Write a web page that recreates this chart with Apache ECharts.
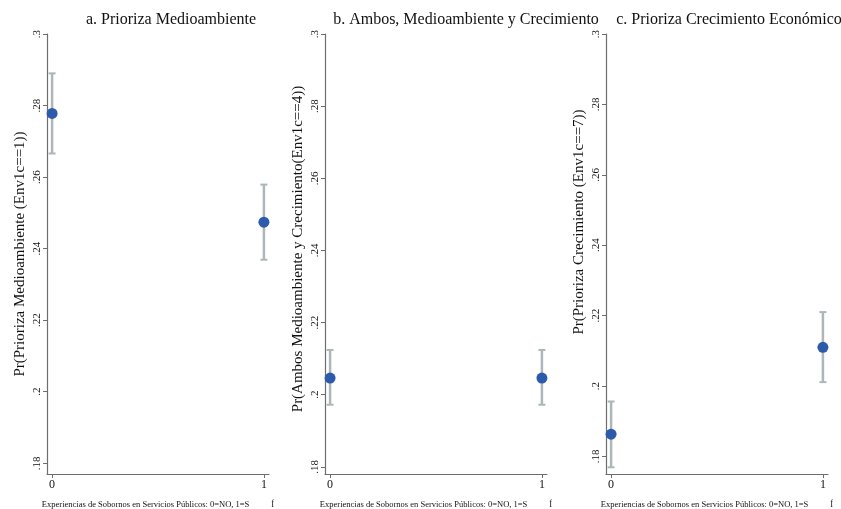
<!DOCTYPE html>
<html>
<head>
<meta charset="utf-8">
<script src="https://cdn.jsdelivr.net/npm/echarts@6/dist/echarts.min.js"></script>
<style>html,body{margin:0;padding:0;background:#fff;}#c{width:841px;height:509px;}</style>
</head>
<body>
<div id="c"></div>
<script>
const categories = [0, 1];
const xTickLabels = ['0', '1'];
const yTicks = ['.18', '.2', '.22', '.24', '.26', '.28', '.3'];

const titles = ['a. Prioriza Medioambiente', 'b. Ambos, Medioambiente y Crecimiento', 'c. Prioriza Crecimiento Económico'];
const yNames = ['Pr(Prioriza Medioambiente (Env1c==1))', 'Pr(Ambos Medioambiente y Crecimiento(Env1c==4))', 'Pr(Prioriza Crecimiento (Env1c==7))'];
const xName = 'Experiencias de Sobornos en Servicios Públicos: 0=NO, 1=S';
const xNameTail = 'Í';

const estA = [0.2778, 0.2474];
const loA = [0.2666, 0.2369];
const hiA = [0.2890, 0.2579];

const estB = [0.2046, 0.2046];
const loB = [0.1972, 0.1972];
const hiB = [0.2124, 0.2124];

const estC = [0.1863, 0.2110];
const loC = [0.1769, 0.2011];
const hiC = [0.1956, 0.2210];

const yMins = [0.177, 0.178, 0.175];

const panels = [[estA, loA, hiA], [estB, loB, hiB], [estC, loC, hiC]];
const gridLefts = [47, 325, 606];
const titleCenters = [166, 461, 724];
const FONT = '"Liberation Serif", "DejaVu Serif", serif';
const AXIS = '#6e6e6e';
const ERR = '#adb6b9';

const option = {
  backgroundColor: '#ffffff',
  animation: false,
  title: titles.map((t, i) => ({
    text: t,
    left: titleCenters[i],
    top: 7,
    textAlign: 'center',
    textStyle: { fontFamily: FONT, fontSize: 16, fontWeight: 'normal', color: '#111' }
  })),
  grid: gridLefts.map(l => ({ left: l, width: 222, top: 34, height: 440, outerBoundsMode: 'none', containLabel: false })),
  xAxis: gridLefts.map((l, i) => ({
    type: 'value', gridIndex: i, min: -0.024, max: 1.024,
    axisLine: { show: true, onZero: false, lineStyle: { color: AXIS, width: 1.2 } },
    splitLine: { show: false },
    axisLabel: {
      fontFamily: FONT, fontSize: 12, color: '#111', margin: 5,
      customValues: categories,
      formatter: v => xTickLabels[categories.indexOf(Math.round(v))]
    },
    axisTick: { show: true, length: 4, customValues: categories, lineStyle: { color: AXIS } },
    name: '{a|' + xName + '}{b|' + xNameTail + '}',
    nameLocation: 'middle',
    nameGap: 26,
    nameTextStyle: {
      rich: {
        a: { fontFamily: FONT, fontSize: 8.5, color: '#111' },
        b: { fontFamily: FONT, fontSize: 8.5, color: '#111', padding: [0, 0, 0, 22] }
      }
    }
  })),
  yAxis: gridLefts.map((l, i) => ({
    type: 'value', gridIndex: i, min: yMins[i], max: 0.3,
    axisLine: { show: true, onZero: false, lineStyle: { color: AXIS, width: 1.2 } },
    splitLine: { show: false },
    axisTick: { show: true, length: 4, customValues: yTicks.map(Number), lineStyle: { color: AXIS } },
    axisLabel: {
      fontFamily: FONT, fontSize: 11, color: '#111', rotate: 90, margin: 4,
      customValues: yTicks.map(Number),
      formatter: v => yTicks[yTicks.map(Number).findIndex(t => Math.abs(t - v) < 1e-6)]
    },
    name: yNames[i],
    nameLocation: 'middle',
    nameGap: 19,
    nameRotate: 90,
    nameTextStyle: {
      fontFamily: FONT, fontSize: 15, color: '#111',
      padding: i === 2 ? [0, 0, 0, 64] : (i === 1 ? [0, 0, 0, 10] : [0, 0, 0, 0])
    }
  })),
  series: []
};

panels.forEach((p, i) => {
  const [est, lo, hi] = p;
  option.series.push({
    type: 'custom', xAxisIndex: i, yAxisIndex: i,
    data: categories.map((c, k) => [c, lo[k], hi[k]]),
    renderItem: (params, api) => {
      const x = api.value(0);
      const a = api.coord([x, api.value(1)]);
      const b = api.coord([x, api.value(2)]);
      const cap = 3.5;
      return {
        type: 'group',
        children: [
          { type: 'line', shape: { x1: a[0], y1: a[1], x2: b[0], y2: b[1] }, style: { stroke: ERR, lineWidth: 2.5 } },
          { type: 'line', shape: { x1: a[0] - cap, y1: a[1], x2: a[0] + cap, y2: a[1] }, style: { stroke: ERR, lineWidth: 2 } },
          { type: 'line', shape: { x1: b[0] - cap, y1: b[1], x2: b[0] + cap, y2: b[1] }, style: { stroke: ERR, lineWidth: 2 } }
        ]
      };
    },
    z: 2
  });
  option.series.push({
    type: 'scatter', xAxisIndex: i, yAxisIndex: i,
    data: categories.map((c, k) => [c, est[k]]),
    symbolSize: 11,
    itemStyle: { color: '#2c5bab', opacity: 1 },
    z: 3
  });
});

const chart = echarts.init(document.getElementById('c'), null, { renderer: 'canvas' });
chart.setOption(option);
</script>
</body>
</html>
